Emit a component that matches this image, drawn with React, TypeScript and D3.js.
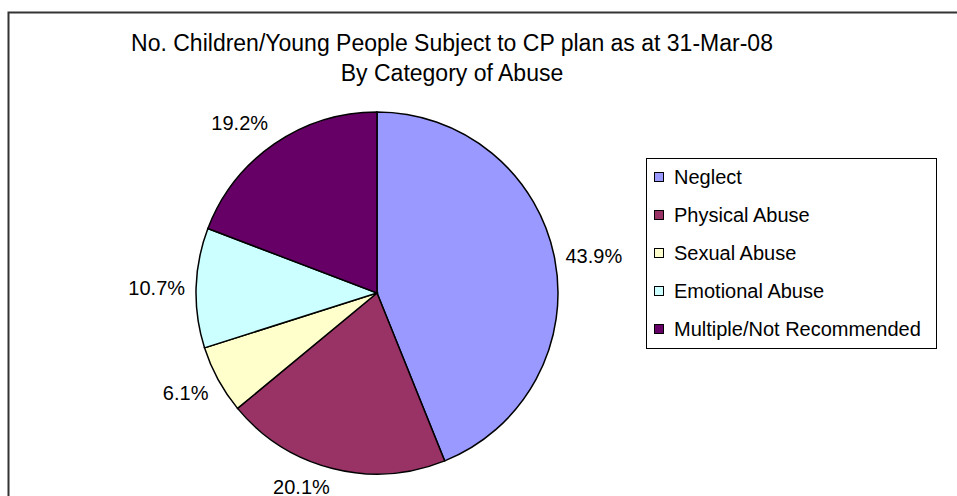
import React from "react";
import * as d3 from "d3";

const categories = ["Neglect", "Physical Abuse", "Sexual Abuse", "Emotional Abuse", "Multiple/Not Recommended"];
const values = [43.9, 20.1, 6.1, 10.7, 19.2];
const colors = ["#9999FF", "#993366", "#FFFFCC", "#CCFFFF", "#660066"];
const titleLines = ["No. Children/Young People Subject to CP plan as at 31-Mar-08", "By Category of Abuse"];

const W = 957;
const H = 496;
const cx = 377;
const cy = 293;
const R = 181;
const FONT = "'Liberation Sans', Arial, sans-serif";

export default function App() {
  const pie = d3.pie<number>().sort(null).value((d) => d);
  const arcs = pie(values);
  const arc = d3.arc<d3.PieArcDatum<number>>().innerRadius(0).outerRadius(R);
  const labelR = R + 11;
  const fs = 20;

  const legendX = 646;
  const legendY = 158;
  const legendW = 290;
  const legendH = 190;
  const step = 38;

  return (
    <svg width={W} height={H} style={{ position: "absolute", left: 0, top: 0 }} fontFamily={FONT}>
      <rect x={0} y={0} width={W} height={H} fill="#fff" />
      <rect x={8.5} y={12.5} width={980} height={520} fill="#fff" stroke="#333" strokeWidth={2} />
      {titleLines.map((t, i) => (
        <text key={i} x={452} y={51 + i * 30} textAnchor="middle" fontSize={23} fill="#000">
          {t}
        </text>
      ))}
      <g transform={`translate(${cx},${cy})`}>
        {arcs.map((a, i) => (
          <path key={i} d={arc(a) || ""} fill={colors[i]} stroke="#000" strokeWidth={1.5} />
        ))}
        {arcs.map((a, i) => {
          const mid = (a.startAngle + a.endAngle) / 2;
          const dx = Math.sin(mid);
          const dy = -Math.cos(mid);
          const x = dx * labelR;
          const y = dy * labelR;
          const anchor = dx >= 0 ? "start" : "end";
          let yy = y + 7;
          if (dy < -0.3) yy = y - 5;
          else if (dy > 0.3) yy = y + 15;
          return (
            <text key={i} x={x} y={yy} textAnchor={anchor} fontSize={fs} fill="#000">
              {a.data.toFixed(1)}%
            </text>
          );
        })}
      </g>
      <rect x={legendX + 0.5} y={legendY + 0.5} width={legendW} height={legendH} fill="#fff" stroke="#000" strokeWidth={1} />
      {categories.map((c, i) => {
        const yc = legendY + 19 + i * step;
        return (
          <g key={c}>
            <rect x={legendX + 8.5} y={yc - 4.5} width={9} height={9} fill={colors[i]} stroke="#000" strokeWidth={1} />
            <text x={legendX + 28} y={yc + 7} fontSize={20} fill="#000">
              {c}
            </text>
          </g>
        );
      })}
    </svg>
  );
}
